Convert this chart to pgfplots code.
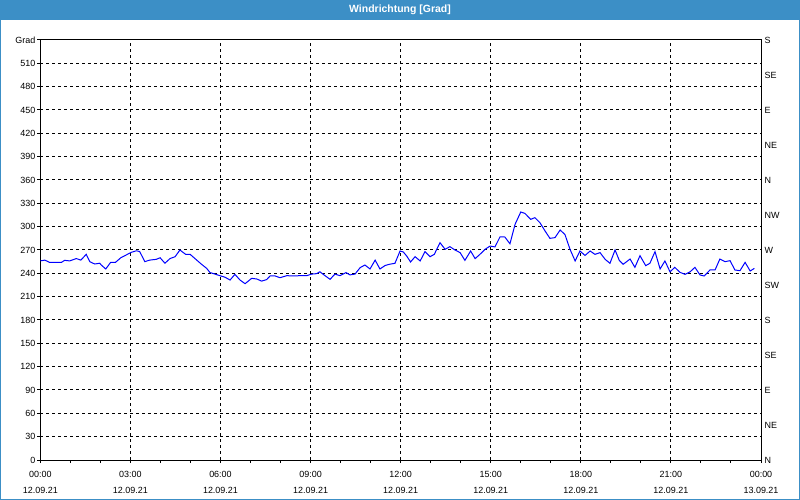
\documentclass[border=0pt]{standalone}
\usepackage{pgfplots}
\pgfplotsset{compat=1.18}
\usepackage{fontspec}
\setmainfont{Liberation Sans}
\definecolor{titleblue}{RGB}{60,143,198}
\begin{document}
\begin{tikzpicture}
\path[use as bounding box] (-40.3bp,-40bp) rectangle (759.7bp,460bp);
\fill[white] (-40.3bp,-40bp) rectangle (759.7bp,460bp);
\fill[titleblue] (-40.3bp,440bp) rectangle (759.7bp,460bp);
\node[text=white,font=\fontsize{10.5}{12}\selectfont\bfseries] at (359.7bp,450bp) {Windrichtung [Grad]};
\draw[titleblue,line width=1bp] (-39.8bp,-39.5bp) rectangle (759.2bp,459.5bp);
\begin{axis}[
  at={(0,0)}, anchor=south west,
  scale only axis, width=720.7bp, height=420bp,
  xmin=0, xmax=24, ymin=0, ymax=540,
  axis line style={line width=1bp, black},
  xtick={0,3,...,24},
  minor xtick={1,2,4,5,7,8,10,11,13,14,16,17,19,20,22,23},
  xticklabels={{00:00\\12.09.21},{03:00\\12.09.21},{06:00\\12.09.21},{09:00\\12.09.21},{12:00\\12.09.21},{15:00\\12.09.21},{18:00\\12.09.21},{21:00\\12.09.21},{00:00\\13.09.21}},
  xticklabel style={align=center, font=\fontsize{9}{16}\selectfont, yshift=-5bp},
  ytick={0,30,...,540},
  yticklabels={0,30,60,90,120,150,180,210,240,270,300,330,360,390,420,450,480,510,Grad},
  yticklabel style={font=\fontsize{9}{11}\selectfont, xshift=1.5bp},
  tick align=outside,
  major tick length=3bp, minor tick length=3bp,
  tick style={black, line width=1bp},
  xtick pos=bottom, ytick pos=left,
  xmajorgrids, ymajorgrids,
  major grid style={black, line width=1bp, dash pattern=on 3bp off 3bp},
  clip=true,
]
\addplot[blue, line width=1bp] coordinates {
(0.00,256) (0.15,257) (0.31,254) (0.70,254) (0.81,256.7) (0.98,256) (1.20,259) (1.35,257)
(1.53,264.4) (1.65,255) (1.81,252) (1.98,253) (2.03,250.7) (2.18,245.6) (2.34,254) (2.50,254)
(2.68,260) (2.86,263.6) (3.03,267) (3.20,269) (3.31,268) (3.48,255) (3.64,257) (3.86,258)
(3.99,260) (4.15,253) (4.32,259) (4.49,261.4) (4.65,270) (4.84,264.4) (4.99,264.4) (5.15,259)
(5.37,251.6) (5.54,246.4) (5.65,241) (5.82,239) (5.98,237) (6.15,235) (6.32,231.4) (6.48,238.7)
(6.65,231.4) (6.82,226.7) (7.04,233.6) (7.21,232.7) (7.37,230) (7.54,232) (7.65,236.6) (7.82,236.6)
(7.98,234.4) (8.21,237) (8.42,236.6) (8.65,237) (8.87,237) (9.04,239) (9.20,239.6) (9.31,242)
(9.48,237) (9.65,232.3) (9.81,239) (9.98,237) (10.18,241) (10.31,238) (10.48,239) (10.65,247.3)
(10.81,250.7) (10.98,245.6) (11.15,257) (11.31,245.6) (11.48,250) (11.62,251.6) (11.81,252.9) (11.98,268.7)
(12.09,267.4) (12.20,262.3) (12.33,254.6) (12.48,261.4) (12.65,255.9) (12.81,267.9) (12.98,261.4) (13.12,264.4)
(13.31,279.4) (13.48,270.9) (13.64,274.3) (13.81,270) (13.98,266.6) (14.14,256.7) (14.33,268.7) (14.48,258.9)
(14.64,264.4) (14.81,270.9) (14.98,275.1) (15.14,273.9) (15.31,287) (15.47,286.7) (15.64,278) (15.81,303)
(16.00,318.9) (16.14,317) (16.33,309.4) (16.47,311.6) (16.64,305) (16.81,294.4) (16.97,285) (17.14,285.9)
(17.31,295.7) (17.47,290) (17.64,270.9) (17.81,255.9) (17.97,268.7) (18.14,263) (18.31,268.7) (18.47,264.4)
(18.64,266.6) (18.81,258) (18.97,252.9) (19.14,270) (19.28,256.7) (19.41,251.6) (19.64,258.4) (19.80,247.7)
(19.97,262.7) (20.16,249.9) (20.30,252.9) (20.47,267.9) (20.64,245.6) (20.80,255.9) (20.97,242) (21.13,247.7)
(21.30,241.3) (21.47,238.7) (21.64,242) (21.80,247.7) (21.97,237.9) (22.11,236.6) (22.30,244.3) (22.47,244.3)
(22.63,258.4) (22.80,255) (22.97,256.3) (23.13,244.3) (23.30,243.4) (23.47,254.1) (23.64,243) (23.78,246.4)
};
\end{axis}
\begin{axis}[
  at={(0,0)}, anchor=south west,
  scale only axis, width=720.7bp, height=420bp,
  xmin=0, xmax=24, ymin=0, ymax=540,
  hide x axis,
  axis y line*=right,
  axis line style={line width=1bp, black},
  ytick={0,45,...,540},
  yticklabels={N,NE,E,SE,S,SW,W,NW,N,NE,E,SE,S},
  yticklabel style={font=\fontsize{9}{11}\selectfont, anchor=west},
  major tick length=0bp,
  tick style={draw=none},
]
\end{axis}
\end{tikzpicture}
\end{document}
